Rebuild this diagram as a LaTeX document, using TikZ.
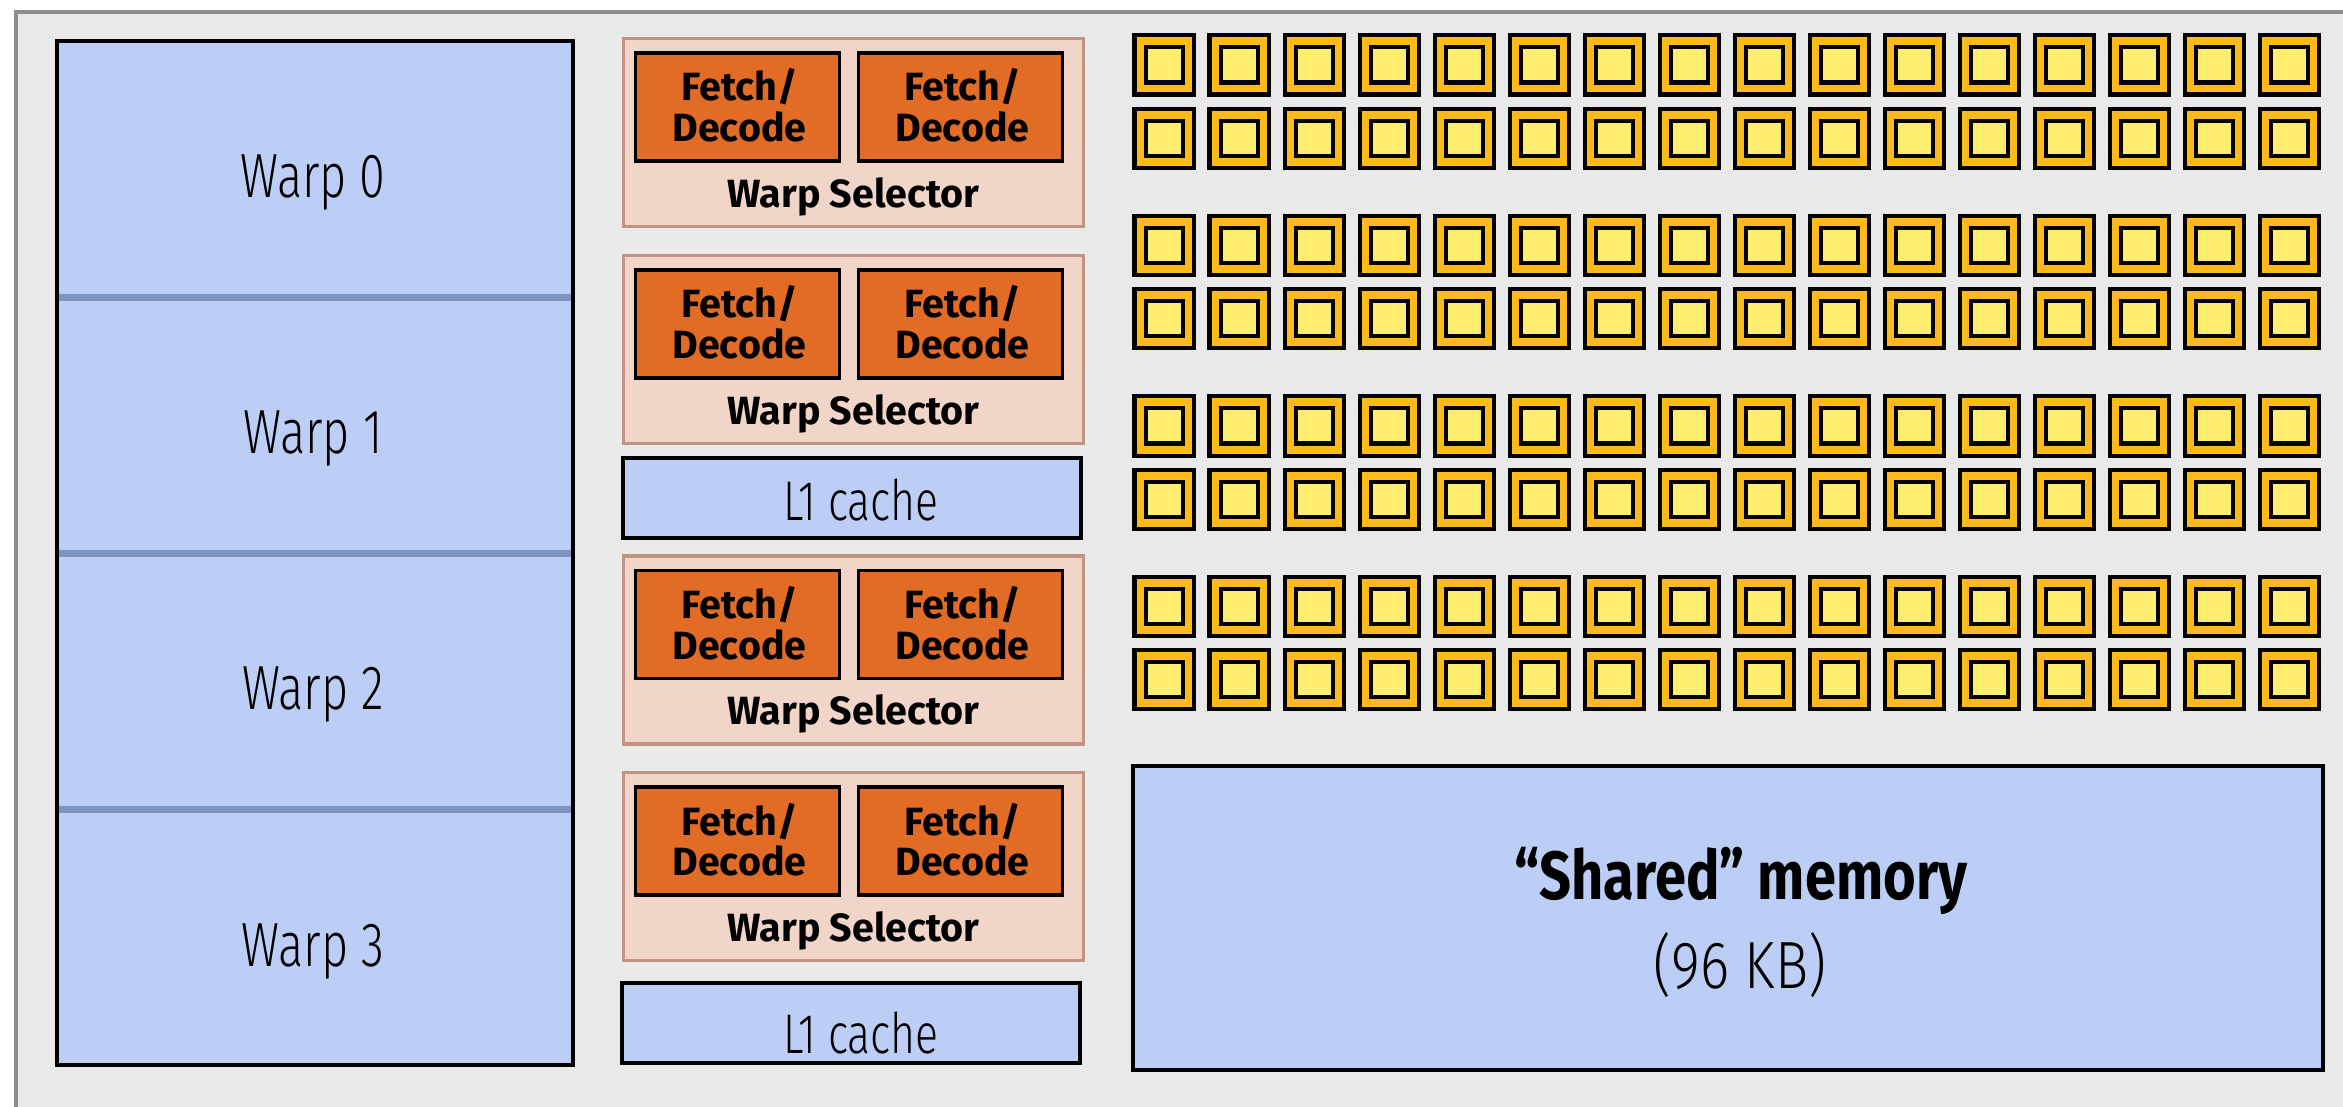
\documentclass[tikz,border=0pt]{standalone}
\usepackage{fontspec}
\setmainfont{Fira Sans}
\newfontfamily\lightf[FakeStretch=0.75]{Fira Sans Light}
\newfontfamily\lightl[FakeStretch=0.765]{Fira Sans Light}
\newfontfamily\lightk[FakeStretch=0.83]{Fira Sans Light}
\newfontfamily\boldf{Fira Sans}
\newfontfamily\boldcf[FakeStretch=0.82]{Fira Sans}
\usetikzlibrary{calc}
\definecolor{bggray}{RGB}{233,233,233}
\definecolor{framegray}{RGB}{140,140,140}
\definecolor{warpblue}{RGB}{188,206,246}
\definecolor{divblue}{RGB}{126,148,192}
\definecolor{pinkfill}{RGB}{241,213,201}
\definecolor{pinkline}{RGB}{193,147,130}
\definecolor{orangefill}{RGB}{226,108,38}
\definecolor{coreorange}{RGB}{254,186,26}
\definecolor{coreyellow}{RGB}{255,237,111}
\begin{document}
\begin{tikzpicture}[x=0.01cm,y=-0.01cm,
  box/.style={rectangle, inner sep=0pt, outer sep=0pt},
  warpblk/.style={box, fill=warpblue, minimum width=5.16cm, minimum height=2.56cm},
  wlab/.style={inner sep=0pt, font=\lightf\fontsize{17.75pt}{20pt}\selectfont},
  l1lab/.style={inner sep=0pt, font=\lightl\fontsize{15.9pt}{18pt}\selectfont},
  panel/.style={box, fill=pinkfill, draw=pinkline, line width=0.9pt, minimum width=4.6cm, minimum height=1.88cm},
  fd/.style={box, fill=orangefill, draw=black, line width=1.0pt, minimum width=2.04cm, minimum height=1.08cm},
  fdlab/.style={inner sep=0pt, font=\boldf\bfseries\fontsize{11.2pt}{12pt}\selectfont},
  l1/.style={box, fill=warpblue, draw=black, line width=1.14pt, minimum width=4.57cm, minimum height=0.79cm},
  core/.style={box, fill=coreorange, draw=black, line width=1.14pt, minimum width=0.59cm, minimum height=0.59cm},
  corein/.style={box, fill=coreyellow, draw=black, line width=1.14pt, minimum width=0.37cm, minimum height=0.35cm},
  shmem/.style={box, fill=warpblue, draw=black, line width=1.14pt, minimum width=11.9cm, minimum height=3.04cm},
  blackline/.style={draw=black, line width=1.14pt},
  divline/.style={draw=divblue, line width=2pt},
]
\useasboundingbox (0,0) rectangle (2343,1107);
\clip (0,0) rectangle (2343,1107);
\fill[white] (0,0) rectangle (2343,1107);
\draw[line width=1.14pt, draw=framegray, fill=bggray] (16,12) rectangle (2420,1180);

% warps
\node[warpblk] (w0) at (315,169) {};
\node[warpblk] (w1) at (315,425) {};
\node[warpblk] (w2) at (315,681) {};
\node[warpblk] (w3) at (315,937) {};
\draw[divline] (w0.south west) -- (w0.south east);
\draw[divline] (w1.south west) -- (w1.south east);
\draw[divline] (w2.south west) -- (w2.south east);
\draw[blackline] (w0.north west) rectangle (w3.south east);
\node[wlab, anchor=base] (w0t) at ($(w0.center)+(-2,29)$) {Warp 0};
\node[wlab, anchor=base] (w1t) at ($(w1.center)+(-2,29)$) {Warp 1};
\node[wlab, anchor=base] (w2t) at ($(w2.center)+(-2,29)$) {Warp 2};
\node[wlab, anchor=base] (w3t) at ($(w3.center)+(-2,29)$) {Warp 3};

% warp selector panels
\foreach \k/\cy in {1/132.5, 2/349.5, 3/650, 4/866.5} {
  \node[panel] (p\k) at (853.5,\cy) {};
  \node[fd] (p\k a) at ($(p\k.center)+(-116,-25.5)$) {};
  \node[fd] (p\k b) at ($(p\k.center)+(107,-25.5)$) {};
  \node[fdlab, anchor=base] (p\k a1) at ($(p\k a.center)+(2,-6)$) {Fetch/};
  \node[fdlab, anchor=base] (p\k a2) at ($(p\k a.center)+(2,35)$) {Decode};
  \node[fdlab, anchor=base] (p\k b1) at ($(p\k b.center)+(2,-6)$) {Fetch/};
  \node[fdlab, anchor=base] (p\k b2) at ($(p\k b.center)+(2,35)$) {Decode};
  \node[fdlab, anchor=base] (p\k s) at ($(p\k.center)+(0,75)$) {Warp Selector};
}

% L1 caches
\node[l1] (l1a) at (852,498) {};
\node[l1] (l1b) at (851,1023) {};
\node[l1lab, anchor=base] (l1at) at (861,521) {L1 cache};
\node[l1lab, anchor=base] (l1bt) at (861,1053) {L1 cache};

% cores
\foreach \g in {0,...,3} {
  \foreach \r in {0,1} {
    \foreach \j in {0,...,15} {
      \node[core] (c\g\r-\j) at ({1164+75*\j},{65+180.5*\g+73.3*\r}) {};
      \node[corein] (ci\g\r-\j) at (c\g\r-\j.center) {};
    }
  }
}

% shared memory
\node[shmem] (sm) at (1728,918) {};
\node[inner sep=0pt, anchor=base, font=\boldcf\bfseries\fontsize{19.4pt}{22pt}\selectfont] (smt1) at (1741,899) {“Shared” memory};
\node[inner sep=0pt, anchor=base, font=\lightk\fontsize{19pt}{22pt}\selectfont] (smt2) at (1740,988) {(96 KB)};
\end{tikzpicture}
\end{document}
